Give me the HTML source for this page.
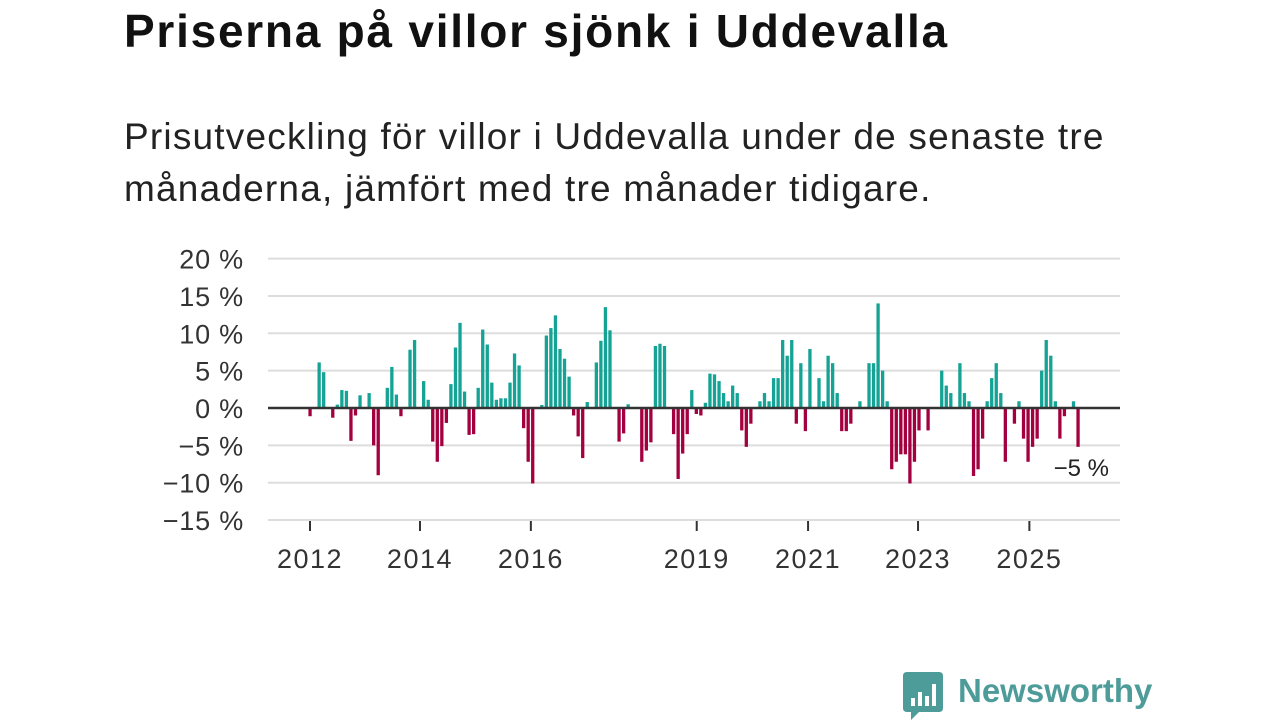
<!DOCTYPE html>
<html><head><meta charset="utf-8"><style>
body{margin:0;width:1280px;height:720px;background:#fff;overflow:hidden;font-family:"Liberation Sans",sans-serif;}
h1{position:absolute;left:124px;top:4px;margin:0;font-size:46px;font-weight:bold;color:#111;letter-spacing:1.75px;white-space:nowrap;}
.sub{position:absolute;left:124px;top:111px;margin:0;font-size:37px;line-height:52px;color:#222;width:1010px;letter-spacing:1.2px;}
svg{position:absolute;left:0;top:0;}
</style></head><body>
<h1>Priserna på villor sjönk i Uddevalla</h1>
<p class="sub">Prisutveckling för villor i Uddevalla under de senaste tre månaderna, jämfört med tre månader tidigare.</p>
<svg id="chart" width="1280" height="720"></svg>
<div style="position:absolute;left:903px;top:672px;">
<svg width="40" height="48" style="position:static"><path d="M0 4 Q0 0 4 0 H36 Q40 0 40 4 V36 Q40 40 36 40 H16 L8 48 V40 H4 Q0 40 0 36Z" fill="#4e9c9a"/><rect x="8" y="26" width="4" height="8" fill="#fff"/><rect x="15" y="20" width="4" height="14" fill="#fff"/><rect x="22" y="24" width="4" height="10" fill="#fff"/><rect x="29" y="12" width="4" height="22" fill="#fff"/></svg>
<span style="position:absolute;left:55px;top:0px;font-size:33px;font-weight:bold;color:#4e9c9a;white-space:nowrap">Newsworthy</span>
</div>
<script>
const values=[-1.1,0,6.1,4.8,0,-1.3,0.45,2.4,2.3,-4.4,-1.0,1.7,0,2.0,-5.0,-9.0,0,2.7,5.5,1.8,-1.1,0,7.8,9.1,0,3.6,1.1,-4.5,-7.2,-5.1,-2.0,3.2,8.1,11.4,2.2,-3.6,-3.5,2.7,10.5,8.5,3.4,1.1,1.3,1.3,3.4,7.3,5.7,-2.7,-7.2,-10.1,0,0.4,9.7,10.7,12.4,7.9,6.6,4.2,-1.0,-3.8,-6.7,0.8,0,6.1,9.0,13.5,10.4,0,-4.5,-3.4,0.5,0,0,-7.2,-5.7,-4.6,8.3,8.6,8.3,0,-3.5,-9.5,-6.1,-3.5,2.4,-0.8,-1.0,0.7,4.6,4.5,3.6,2.0,0.9,3.0,2.0,-3.0,-5.2,-2.1,0,0.9,2.0,0.9,4.0,4.0,9.1,7.0,9.1,-2.1,6.0,-3.1,7.9,0,4.0,0.9,7.0,6.0,2.0,-3.1,-3.1,-2.1,0,0.9,0,6.0,6.0,14.0,5.0,0.9,-8.2,-7.2,-6.2,-6.2,-10.1,-7.2,-3.0,0,-3.0,0,0,5.0,3.0,2.0,0,6.0,2.0,0.9,-9.1,-8.2,-4.1,0.9,4.0,6.0,2.0,-7.2,0,-2.1,0.9,-4.1,-7.2,-5.2,-4.1,5.0,9.1,7.0,0.9,-4.1,-1.1,0,0.9,-5.2];
const yTicks=[20,15,10,5,0,-5,-10,-15];
const xTickLabels=["2012","2014","2016","2019","2021","2023","2025"];
const xTickIdx=[0,24.2,48.6,85.1,109.6,133.8,158.3];
const lastLabel="−5 %";
const svg=document.getElementById('chart');const NS="http://www.w3.org/2000/svg";
const y=v=>408-v*7.47;const x=i=>310+i*(768/(values.length-1));
function mk(t,a){const e=document.createElementNS(NS,t);for(const k in a)e.setAttribute(k,a[k]);svg.appendChild(e);return e;}
yTicks.forEach(t=>{
 if(t!==0){const g=mk('line',{x1:268,x2:1120,y1:y(t),y2:y(t),stroke:'#ddd','stroke-width':2});
 
 }
 const l=mk('text',{x:244,y:y(t)+10,'text-anchor':'end','font-size':27,'letter-spacing':0.8,fill:'#333','font-family':'Liberation Sans'});
 l.textContent=(t<0?'−'+(-t):t)+' %';
 
 
});
values.forEach((v,i)=>{
 if(v===0)return;
 const r=mk('rect',{x:x(i)-1.6,width:3.3,y:v>0?y(v):y(0),height:Math.abs(y(v)-y(0)),fill:v>0?'#14a394':'#a3003f'});
 
 
});
const z=mk('line',{x1:268,x2:1120,y1:y(0),y2:y(0),stroke:'#333','stroke-width':2.5});


xTickIdx.forEach((ti,k)=>{
 const t=mk('line',{x1:x(ti),x2:x(ti),y1:521,y2:531,stroke:'#333','stroke-width':2});
 
 
 const l=mk('text',{x:x(ti),y:568,'text-anchor':'middle','font-size':27,'letter-spacing':1.5,fill:'#333','font-family':'Liberation Sans'});
 l.textContent=xTickLabels[k];
 
 
});
const ll=mk('text',{x:1109,y:476,'text-anchor':'end','font-size':24,fill:'#222','font-family':'Liberation Sans'});
ll.textContent=lastLabel;


</script>
</body></html>
